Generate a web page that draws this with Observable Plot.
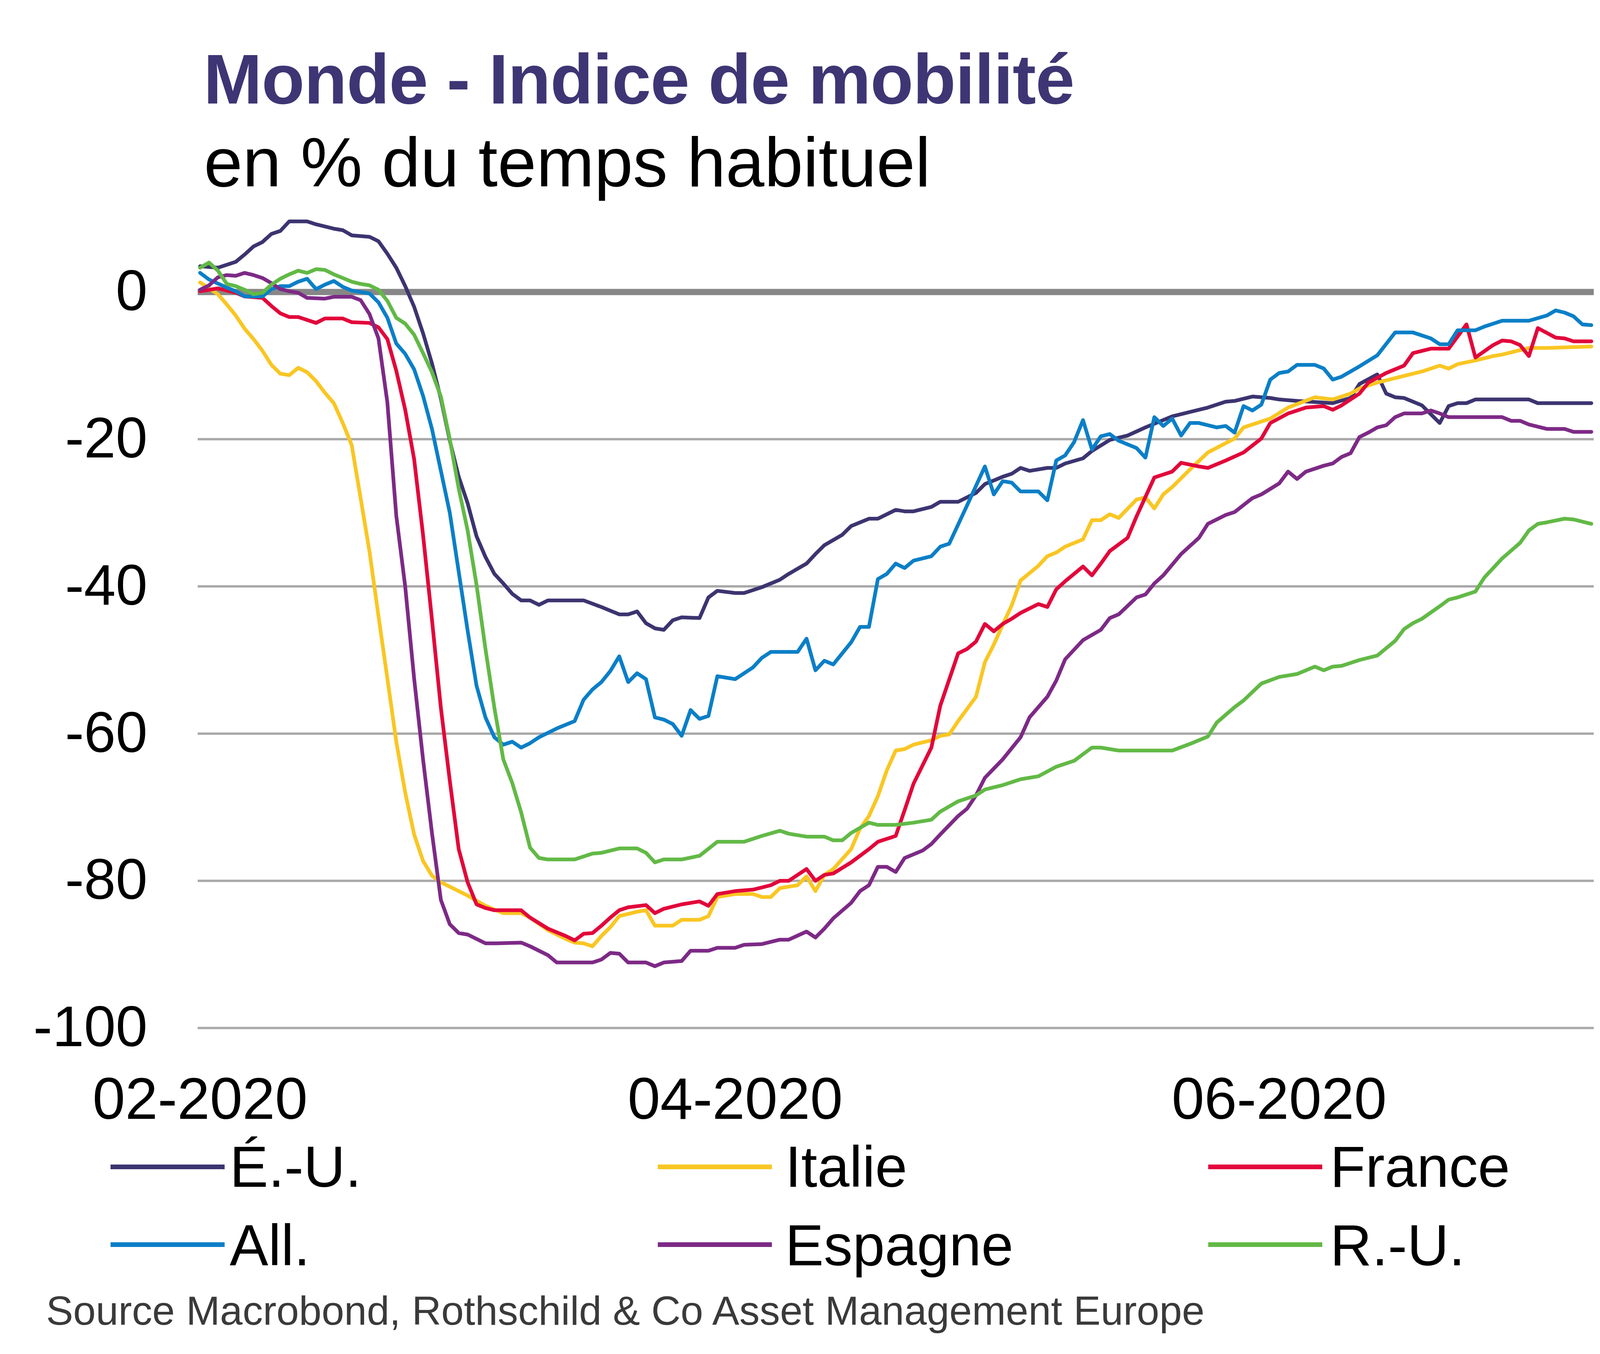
<!DOCTYPE html>
<html>
<head>
<meta charset="utf-8">
<script src="https://cdn.jsdelivr.net/npm/d3@7"></script>
<script src="https://cdn.jsdelivr.net/npm/@observablehq/plot@0.6"></script>
<style>
  html, body { margin: 0; padding: 0; background: #fff; }
  #page { position: relative; width: 4224px; height: 3466px; overflow: hidden; background: #fff;
          font-family: "Liberation Sans", Arial, Helvetica, sans-serif; }
  .t { position: absolute; white-space: nowrap; line-height: 1; margin: 0; }
  #title { left: 521px; top: 113px; font-size: 180px; font-weight: bold; color: #3e3574; letter-spacing: -1.2px; }
  #subtitle { left: 522px; top: 327px; font-size: 178px; color: #000; }
  #source { left: 118px; top: 3303px; font-size: 104px; color: #3a3a3a; }
  #chart { position: absolute; left: 0; top: 0; }
  .sw { position: absolute; height: 12px; }
  .lg { position: absolute; white-space: nowrap; line-height: 1; font-size: 148px; color: #000; }
</style>
</head>
<body>
<div id="page">
  <div id="title" class="t">Monde - Indice de mobilité</div>
  <div id="subtitle" class="t">en % du temps habituel</div>
  <div id="chart"></div>
  <div id="legend"></div>
  <div id="source" class="t">Source Macrobond, Rothschild &amp; Co Asset Management Europe</div>
</div>
<script>
// Day offsets from 1 Feb 2020, value in % vs usual
const startDate = new Date(2020, 1, 1);

const usa = [[0,3.5],[2,3.3],[4,4.1],[5,5.1],[6,6.2],[7,6.8],[8,7.9],[9,8.3],[10,9.6],[12,9.6],[13,9.2],[15,8.6],[16,8.4],[17,7.7],[19,7.5],[20,6.9],[21,5.2],[22,3.3],[23,0.8],[24,-2],[25,-5.6],[26,-9.7],[27,-14.5],[28,-20.2],[29,-25.1],[30,-28.7],[31,-33.2],[32,-36],[33,-38.3],[34,-39.6],[35,-41],[36,-41.9],[37,-41.9],[38,-42.5],[39,-41.9],[43,-41.9],[45,-42.8],[47,-43.8],[48,-43.8],[49,-43.4],[50,-45],[51,-45.7],[52,-45.9],[53,-44.6],[54,-44.2],[56,-44.3],[57,-41.5],[58,-40.6],[60,-40.9],[61,-40.9],[63,-40.1],[65,-39.1],[66,-38.3],[68,-36.9],[69,-35.6],[70,-34.4],[72,-33],[73,-31.8],[75,-30.8],[76,-30.8],[78,-29.6],[79,-29.8],[80,-29.8],[82,-29.2],[83,-28.5],[85,-28.5],[87,-27.3],[88,-26.1],[90,-25.1],[91,-24.7],[92,-23.9],[93,-24.3],[95,-23.9],[96,-23.9],[97,-23.3],[99,-22.6],[100,-21.6],[102,-20.1],[104,-19.5],[106,-18.4],[109,-16.9],[113,-15.7],[115,-14.9],[116,-14.8],[118,-14.2],[120,-14.4],[121,-14.6],[123,-14.8],[127,-15.1],[129,-14.4],[130,-12.5],[132,-11.2],[133,-13.8],[134,-14.3],[135,-14.4],[137,-15.4],[139,-17.8],[140,-15.5],[141,-15.1],[142,-15.1],[143,-14.6],[149,-14.6],[150,-15.1],[156,-15.1]];

const italie = [[0,1.3],[1,0.5],[2,-0.3],[3,-1.7],[4,-3.2],[5,-5],[6,-6.4],[7,-8],[8,-9.9],[9,-11.1],[10,-11.3],[11,-10.3],[12,-10.9],[13,-12.1],[14,-13.7],[15,-15.1],[16,-17.8],[17,-20.8],[18,-28],[19,-35.3],[20,-44],[21,-52.5],[22,-61.1],[23,-68],[24,-73.7],[25,-77.3],[26,-79.3],[27,-80.2],[28,-80.8],[30,-82],[32,-83.4],[34,-84.4],[36,-84.4],[37,-85],[39,-86.7],[41,-87.9],[42,-88.4],[43,-88.5],[44,-88.9],[45,-87.5],[46,-86.3],[47,-84.8],[49,-84.2],[50,-84],[51,-86.1],[53,-86.1],[54,-85.3],[56,-85.3],[57,-84.8],[58,-82.2],[60,-81.8],[62,-81.8],[63,-82.2],[64,-82.2],[65,-81],[67,-80.6],[68,-79.4],[69,-81.4],[70,-79.2],[71,-78.4],[73,-75.7],[74,-72.9],[75,-71.2],[76,-68.5],[77,-65],[78,-62.3],[79,-62.1],[80,-61.5],[82,-60.9],[83,-60.3],[84,-60.1],[85,-58.3],[87,-55],[88,-50.3],[89,-47.9],[90,-45.2],[91,-42.6],[92,-39.2],[93,-38.2],[94,-37.2],[95,-35.9],[96,-35.4],[97,-34.6],[99,-33.6],[100,-31],[101,-31],[102,-30.2],[103,-30.7],[105,-28.2],[106,-27.9],[107,-29.4],[108,-27.5],[109,-26.5],[111,-24.1],[113,-21.8],[116,-19.9],[117,-18.4],[120,-17.2],[122,-15.7],[125,-14.3],[127,-14.6],[129,-13.8],[130,-13.1],[132,-12.3],[134,-11.7],[136,-11.1],[137,-10.8],[139,-10],[140,-10.4],[141,-9.8],[143,-9.3],[145,-8.7],[146,-8.5],[148,-7.9],[149,-7.6],[151,-7.6],[156,-7.4]];

const france = [[0,0.1],[1,0.3],[2,0.5],[4,-0.1],[5,-0.6],[7,-0.8],[8,-1.9],[9,-2.9],[10,-3.4],[11,-3.4],[12,-3.8],[13,-4.2],[14,-3.6],[16,-3.6],[17,-4.1],[19,-4.2],[20,-4.8],[21,-6.4],[22,-10.7],[23,-16],[24,-22.7],[25,-33],[26,-44.5],[27,-56.5],[28,-66.4],[29,-75.7],[30,-80.2],[31,-83.2],[32,-83.7],[33,-84],[36,-84],[37,-85],[39,-86.5],[41,-87.5],[42,-88.1],[43,-87.2],[44,-87.1],[45,-86.1],[46,-85],[47,-84],[48,-83.6],[50,-83.3],[51,-84.4],[52,-83.8],[54,-83.2],[56,-82.8],[57,-83.4],[58,-81.8],[60,-81.4],[62,-81.2],[64,-80.6],[65,-80],[66,-80],[68,-78.4],[69,-80],[70,-79.2],[71,-79],[73,-77.5],[75,-75.7],[76,-74.7],[78,-73.9],[79,-70.4],[80,-66.8],[82,-61.9],[83,-56.2],[85,-49.1],[86,-48.5],[87,-47.5],[88,-45.1],[89,-46.1],[90,-45.1],[91,-44.4],[92,-43.6],[94,-42.4],[95,-42.8],[96,-40.4],[97,-39.3],[99,-37.3],[100,-38.5],[101,-36.9],[102,-35.2],[104,-33.4],[105,-30.5],[107,-25.2],[109,-24.4],[110,-23.2],[112,-23.7],[113,-23.9],[115,-22.9],[117,-21.8],[119,-19.9],[120,-17.8],[122,-16.5],[124,-15.7],[126,-15.5],[127,-16],[128,-15.4],[130,-13.8],[131,-12.3],[133,-11],[135,-10],[136,-8.3],[138,-7.7],[140,-7.7],[142,-4.4],[143,-8.9],[145,-7.2],[146,-6.6],[147,-6.7],[148,-7.2],[149,-8.7],[150,-4.9],[152,-6.2],[153,-6.3],[154,-6.7],[156,-6.7]];

const allemagne = [[0,2.6],[1,1.7],[3,0.6],[4,0.1],[5,-0.6],[7,-0.6],[8,0.4],[9,0.8],[10,0.8],[11,1.4],[12,1.8],[13,0.4],[14,1],[15,1.5],[16,0.7],[17,0.2],[19,-0.2],[20,-1.4],[21,-3.5],[22,-7],[23,-8.4],[24,-10.5],[25,-14.1],[26,-18.6],[27,-24.3],[28,-30],[29,-38],[30,-46],[31,-53.5],[32,-57.8],[33,-60.5],[34,-61.5],[35,-61.1],[36,-61.9],[37,-61.3],[38,-60.5],[39,-59.9],[40,-59.3],[42,-58.3],[43,-55.4],[44,-54],[45,-53],[46,-51.5],[47,-49.5],[48,-53],[49,-51.8],[50,-52.6],[51,-57.8],[52,-58.1],[53,-58.7],[54,-60.3],[55,-56.8],[56,-58],[57,-57.6],[58,-52.2],[60,-52.6],[62,-51],[63,-49.7],[64,-48.9],[67,-48.9],[68,-47.1],[69,-51.4],[70,-50.1],[71,-50.6],[73,-47.6],[74,-45.5],[75,-45.5],[76,-39],[77,-38.3],[78,-36.9],[79,-37.5],[80,-36.5],[82,-35.9],[83,-34.6],[84,-34.2],[85,-31.6],[86,-29],[88,-23.7],[89,-27.5],[90,-25.7],[91,-25.9],[92,-27.1],[94,-27.1],[95,-28.3],[96,-22.9],[97,-22.2],[98,-20.4],[99,-17.4],[100,-21.4],[101,-19.6],[102,-19.3],[103,-20.2],[105,-21.2],[106,-22.5],[107,-17],[108,-18.2],[109,-17.2],[110,-19.5],[111,-17.8],[112,-17.8],[114,-18.4],[115,-18.2],[116,-19.1],[117,-15.5],[118,-16.1],[119,-15.3],[120,-11.9],[121,-11],[122,-10.8],[123,-9.9],[125,-9.9],[126,-10.4],[127,-11.9],[128,-11.5],[130,-10.1],[132,-8.6],[134,-5.5],[136,-5.5],[138,-6.3],[139,-7.1],[140,-7.1],[141,-5.2],[143,-5.2],[144,-4.7],[146,-3.9],[149,-3.9],[151,-3.2],[152,-2.5],[153,-2.8],[154,-3.3],[155,-4.4],[156,-4.5]];

const espagne = [[0,0.3],[1,0.9],[2,2],[3,2.3],[4,2.2],[5,2.6],[6,2.3],[7,1.9],[8,1.2],[9,0.4],[10,0.1],[11,-0.1],[12,-0.8],[14,-0.9],[15,-0.65],[17,-0.65],[18,-1.1],[19,-3],[20,-6.3],[21,-15],[22,-30.4],[23,-40],[24,-52.5],[25,-63.5],[26,-73.5],[27,-82.6],[28,-85.9],[29,-87.1],[30,-87.3],[32,-88.5],[33,-88.5],[36,-88.4],[37,-88.9],[39,-90.1],[40,-91.1],[44,-91.1],[45,-90.7],[46,-89.8],[47,-89.9],[48,-91.1],[50,-91.1],[51,-91.6],[52,-91.1],[54,-90.9],[55,-89.5],[57,-89.5],[58,-89.1],[60,-89.1],[61,-88.7],[63,-88.6],[65,-88],[66,-88],[68,-86.9],[69,-87.7],[70,-86.5],[71,-85.1],[73,-83],[74,-81.4],[75,-80.6],[76,-78.1],[77,-78.1],[78,-78.8],[79,-76.9],[81,-75.9],[82,-75],[83,-73.7],[85,-71.2],[86,-70.2],[87,-68.4],[88,-66],[90,-63.5],[92,-60.5],[93,-57.8],[95,-55],[96,-52.8],[97,-49.9],[99,-47.3],[101,-45.9],[102,-44.3],[103,-43.8],[105,-41.5],[106,-41.1],[107,-39.6],[108,-38.5],[110,-35.6],[112,-33.4],[113,-31.5],[115,-30.3],[116,-29.9],[118,-28],[119,-27.5],[121,-26],[122,-24.4],[123,-25.4],[124,-24.4],[126,-23.6],[127,-23.3],[128,-22.4],[129,-21.9],[130,-19.7],[131,-19.1],[132,-18.4],[133,-18.1],[134,-17],[135,-16.5],[137,-16.5],[138,-16.1],[139,-16.5],[140,-17],[146,-17],[147,-17.5],[148,-17.5],[149,-18],[151,-18.6],[153,-18.6],[154,-19],[156,-19]];

const royaumeUni = [[0,3.3],[1,4],[2,2.9],[3,1.1],[4,0.8],[5,0.3],[6,-0.3],[7,-0.1],[8,1],[9,1.8],[10,2.4],[11,2.9],[12,2.6],[13,3.1],[14,3],[15,2.4],[16,1.9],[17,1.4],[18,1.1],[19,0.9],[20,0.3],[21,-1.2],[22,-3.5],[23,-4.3],[24,-5.8],[25,-8.3],[26,-10.9],[27,-14.2],[28,-20],[29,-26.7],[30,-32.4],[31,-39.8],[32,-48.5],[33,-56.5],[34,-63.5],[35,-66.7],[36,-70.7],[37,-75.5],[38,-76.9],[39,-77.1],[42,-77.1],[44,-76.3],[45,-76.2],[47,-75.6],[49,-75.6],[50,-76.2],[51,-77.5],[52,-77.1],[54,-77.1],[56,-76.6],[58,-74.7],[61,-74.7],[63,-73.9],[65,-73.2],[66,-73.6],[68,-74],[70,-74],[71,-74.5],[72,-74.5],[73,-73.5],[75,-72.1],[76,-72.4],[78,-72.4],[80,-72.1],[82,-71.7],[83,-70.6],[85,-69.2],[87,-68.4],[88,-67.6],[90,-67],[92,-66.2],[94,-65.8],[96,-64.5],[98,-63.7],[100,-61.9],[101,-61.9],[102,-62.1],[103,-62.3],[109,-62.3],[111,-61.4],[113,-60.4],[114,-58.5],[116,-56.4],[117,-55.5],[119,-53.2],[121,-52.3],[123,-51.9],[125,-50.9],[126,-51.4],[127,-50.9],[128,-50.8],[130,-50],[132,-49.4],[134,-47.4],[135,-45.8],[136,-45],[137,-44.4],[139,-42.7],[140,-41.8],[141,-41.5],[143,-40.7],[144,-38.8],[145,-37.5],[146,-36.2],[148,-34.1],[149,-32.4],[150,-31.5],[151,-31.3],[153,-30.8],[154,-30.9],[156,-31.5]];

const names  = ["É.-U.", "Italie", "France", "All.", "Espagne", "R.-U."];
const colors = ["#3c3470", "#f9c623", "#e2063b", "#0b7fc7", "#7d2a86", "#62b946"];
const values = [usa, italie, france, allemagne, espagne, royaumeUni];
const gridTicks = [-100, -80, -60, -40, -20];
const yTicks = [0, -20, -40, -60, -80, -100];
const xTicks = [new Date(2020, 1, 1), new Date(2020, 3, 1), new Date(2020, 5, 1)];

const rows = names.flatMap((n, i) => values[i].map(([d, v]) => ({
  pays: n, date: d3.timeDay.offset(startDate, d), value: v
})));

const chart = Plot.plot({
  width: 4224,
  height: 2960,
  marginLeft: 506,
  marginRight: 144,
  marginTop: 747,
  marginBottom: 329,
  style: { fontFamily: '"Liberation Sans", Arial, sans-serif', fontSize: "148px", color: "#000", background: "transparent", overflow: "visible" },
  x: { type: "time", domain: [new Date(2020, 1, 1, -6), new Date(2020, 6, 6, 7)] },
  y: { domain: [-100, 0] },
  color: { domain: names, range: colors },
  marks: [
    Plot.ruleY(gridTicks, { stroke: "#a9a9a9", strokeWidth: 6 }),
    Plot.ruleY([0], { stroke: "#878787", strokeWidth: 16 }),
    Plot.axisY({ ticks: yTicks, tickSize: 0, tickPadding: 129, fontSize: 146, tickFormat: d => String(d), label: null, fill: "#000" }),
    Plot.axisX({ ticks: xTicks, tickSize: 0, tickPadding: 126, fontSize: 150, tickFormat: d3.timeFormat("%m-%Y"), label: null, fill: "#000" }),
    Plot.line(rows, { x: "date", y: "value", z: "pays", stroke: "pays", strokeWidth: 9.5, strokeLinejoin: "round", strokeLinecap: "round" })
  ]
});
document.getElementById("chart").appendChild(chart);

// Legend (2 rows x 3 columns)
const legend = document.getElementById("legend");
const colSwatchX = [283, 1684, 3093];
const colTextX = [588, 2010, 3405];
const rowCenterY = [2987, 3186];
const rowTextTop = [2913, 3114];
names.forEach((n, i) => {
  const r = Math.floor(i / 3), c = i % 3;
  const sw = document.createElement("div");
  sw.className = "sw";
  sw.style.left = colSwatchX[c] + "px";
  sw.style.width = "292px";
  sw.style.top = (rowCenterY[r] - 6) + "px";
  sw.style.background = colors[i];
  legend.appendChild(sw);
  const tx = document.createElement("div");
  tx.className = "lg";
  tx.style.left = colTextX[c] + "px";
  tx.style.top = rowTextTop[r] + "px";
  tx.textContent = n;
  legend.appendChild(tx);
});
</script>
</body>
</html>
